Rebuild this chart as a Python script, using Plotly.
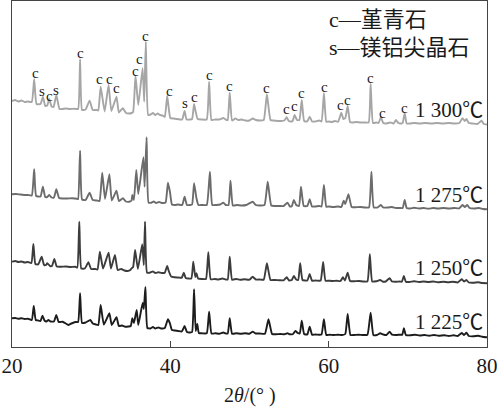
import plotly.graph_objects as go

# XRD patterns: (2theta in degrees, intensity in arbitrary units incl. vertical offset)
xrd_1300 = [
    (20.0, 246), (20.4, 247), (20.8, 245.5), (21.2, 246.5), (21.6, 245), (22.0, 245.5), (22.5, 245),
    (22.8, 267.7), (23.1, 243), (23.6, 243), (23.9, 250.3), (24.2, 241), (24.45, 241.5), (24.7, 248),
    (25.0, 240.5), (25.25, 240), (25.6, 252), (26.0, 238), (26.4, 238), (26.8, 238.5), (27.3, 238),
    (27.9, 238.3), (28.35, 238), (28.6, 287.7), (28.85, 237), (29.3, 237.5), (29.8, 246.3), (30.2, 237),
    (30.7, 237), (30.9, 236.5), (31.2, 260.3), (31.7, 235.5), (32.2, 262), (32.55, 236), (33.2, 250.3),
    (33.5, 234.5), (34.0, 238.7), (34.4, 234), (34.8, 233.5), (35.1, 234), (35.3, 235), (35.6, 271.3),
    (35.95, 242), (36.5, 278.7), (36.7, 245.3), (36.9, 305.3), (37.2, 232), (37.5, 232.5), (37.8, 234),
    (38.1, 232), (38.4, 233.5), (38.7, 232), (39.0, 231.5), (39.3, 230), (39.6, 251), (39.75, 242),
    (40.0, 229), (40.4, 228.5), (40.8, 228), (41.2, 227.5), (41.5, 227.5), (41.8, 236), (42.05, 227.5),
    (42.5, 227.5), (42.75, 228), (43.0, 243), (43.2, 235.3), (43.45, 228), (44.0, 227.5), (44.6, 227.5),
    (44.9, 265.3), (45.2, 227), (45.7, 227.5), (46.2, 227.5), (46.7, 229), (47.1, 227), (47.25, 227),
    (47.5, 254.3), (47.8, 226.5), (48.2, 228.5), (48.6, 227), (49.0, 227.5), (49.5, 226.5), (50.0, 226.5),
    (50.4, 228.5), (50.8, 227), (51.3, 226.5), (51.8, 227), (52.2, 252.7), (52.65, 227), (53.0, 226.5),
    (53.6, 226), (54.0, 226), (54.4, 226.5), (54.7, 229.7), (54.95, 226), (55.3, 225.5), (55.45, 226),
    (55.7, 232), (56.0, 227), (56.3, 227), (56.6, 247), (56.9, 226), (57.3, 225.5), (57.6, 230.3),
    (57.9, 225.5), (58.3, 225.5), (58.8, 226.5), (59.1, 225.5), (59.4, 253.7), (59.7, 225.3), (60.0, 225.5),
    (60.4, 225), (60.8, 226), (61.2, 225.3), (61.6, 234.3), (61.85, 228), (62.1, 229), (62.4, 241),
    (62.7, 225), (63.0, 224.5), (63.5, 225), (64.0, 224.5), (64.5, 224.5), (65.05, 224.5), (65.3, 263),
    (65.6, 224), (66.0, 224.5), (66.3, 224), (66.6, 229.7), (66.9, 224), (67.3, 223.5), (67.8, 224.5),
    (68.2, 223.5), (68.5, 227), (68.8, 224), (69.2, 223.5), (69.35, 224), (69.6, 233.7), (69.85, 223.5),
    (70.3, 223.5), (70.8, 224), (71.5, 223.5), (72.2, 224), (73.0, 223.5), (73.7, 224), (74.4, 223.5),
    (75.2, 224), (75.9, 223.5), (76.5, 224), (76.9, 228.7), (77.2, 226), (77.4, 228), (77.7, 224),
    (78.2, 223.5), (78.8, 223), (79.3, 226.3), (79.6, 223), (80.0, 222.5),
]

xrd_1275 = [
    (20.0, 152.7), (20.5, 153), (21.0, 152.5), (21.5, 152), (22.0, 152), (22.5, 151.5), (22.8, 177.7),
    (23.05, 151), (23.6, 150.5), (23.9, 160.3), (24.2, 150), (24.45, 150), (24.7, 152), (25.0, 149.5),
    (25.3, 149.5), (25.6, 157.7), (25.95, 149), (26.4, 148.5), (27.0, 148.5), (27.6, 148.7), (28.2, 148.3),
    (28.35, 148), (28.6, 196.3), (28.85, 147.5), (29.3, 147), (29.8, 154.3), (30.2, 147), (30.7, 146.5),
    (31.05, 146), (31.4, 174.3), (31.75, 148), (32.3, 172.7), (32.6, 146.5), (33.2, 156.3), (33.5, 146),
    (34.0, 148.7), (34.4, 145.5), (34.8, 145.3), (35.1, 146.5), (35.2, 152), (35.4, 147), (35.7, 177),
    (35.95, 153), (36.6, 189.7), (36.75, 160.3), (37.0, 209.7), (37.25, 144.5), (37.6, 144.3),
    (37.9, 145.5), (38.2, 144), (38.6, 145), (39.0, 144), (39.4, 144.5), (39.7, 164.3), (39.95, 155.3),
    (40.2, 142.5), (40.6, 142), (41.0, 142.5), (41.5, 142), (41.8, 150.3), (42.1, 142), (42.5, 142),
    (42.75, 142.5), (43.0, 163.7), (43.3, 148.7), (43.55, 142), (44.0, 142), (44.6, 142), (45.0, 175.3),
    (45.3, 142), (45.8, 142), (46.3, 142.5), (46.7, 144.3), (47.0, 142), (47.35, 142), (47.6, 166.3),
    (47.9, 141.5), (48.4, 142), (49.0, 141.5), (49.6, 142), (50.4, 145.3), (50.8, 142), (51.3, 141.5),
    (51.9, 142), (52.3, 165.3), (52.75, 141.5), (53.2, 141), (53.8, 141), (54.3, 141), (54.8, 144.3),
    (55.1, 140.5), (55.35, 141), (55.6, 147), (55.9, 142), (56.25, 141), (56.5, 160.3), (56.85, 141),
    (57.3, 141), (57.6, 147.7), (57.9, 140.5), (58.3, 140.5), (58.8, 141), (59.1, 140.5), (59.4, 162),
    (59.7, 140.3), (60.0, 140.5), (60.6, 140), (61.2, 140.5), (61.6, 140), (61.9, 146.3), (62.1, 143),
    (62.5, 152.7), (62.9, 140), (63.4, 139.7), (64.0, 140), (64.6, 139.5), (65.1, 139.7), (65.4, 175.3),
    (65.7, 139.5), (66.2, 139.7), (66.6, 142), (66.9, 139.5), (67.5, 139.5), (68.0, 140), (68.5, 139),
    (69.0, 139), (69.35, 139), (69.6, 147), (69.85, 139), (70.3, 138.5), (70.8, 139.2), (71.4, 138.5),
    (72.0, 139), (72.6, 138.3), (73.2, 139), (73.8, 138.5), (74.5, 139), (75.2, 138.5), (75.9, 139),
    (76.5, 138.7), (76.9, 142), (77.2, 140), (77.5, 142), (77.8, 139), (78.4, 138.5), (79.0, 139),
    (79.5, 138), (80.0, 137.7),
]

xrd_1250 = [
    (20.0, 85.3), (20.4, 86), (20.8, 85), (21.2, 85.5), (21.6, 84.5), (22.0, 85), (22.45, 84),
    (22.7, 103), (22.95, 83), (23.3, 82.5), (23.75, 90.3), (24.05, 82), (24.3, 82), (24.45, 83.7),
    (24.8, 81), (25.05, 81), (25.35, 88), (25.65, 80.5), (26.2, 80.3), (26.8, 80.5), (27.4, 80),
    (28.0, 80.3), (28.25, 79.5), (28.5, 125.3), (28.75, 78.5), (29.2, 78.5), (29.65, 84.7), (30.0, 78),
    (30.5, 78), (30.8, 77.5), (31.1, 95.3), (31.5, 78.5), (32.2, 94.3), (32.5, 78.5), (33.0, 92),
    (33.35, 77), (33.8, 78), (34.2, 76.5), (34.6, 76), (34.95, 77), (35.1, 78.7), (35.3, 80),
    (35.55, 97), (35.9, 78), (36.45, 102.7), (36.65, 82), (36.8, 125.3), (37.05, 74.5), (37.4, 74.3),
    (37.8, 75.5), (38.1, 74), (38.5, 74.8), (38.9, 74), (39.3, 74.3), (39.6, 81), (39.8, 76),
    (40.1, 70.5), (40.5, 69.7), (41.0, 69.5), (41.45, 69.3), (41.7, 74.3), (41.95, 69), (42.65, 68.5),
    (42.9, 85.3), (43.15, 70), (43.3, 73.7), (43.5, 68.5), (44.0, 68), (44.5, 68), (44.8, 94.7),
    (45.1, 67.7), (45.6, 68), (46.1, 67.5), (46.6, 68.5), (47.0, 67.5), (47.25, 67.5), (47.5, 90.3),
    (47.8, 67.3), (48.3, 68), (48.8, 67.3), (49.4, 67.7), (50.0, 67.3), (50.4, 70.3), (50.8, 67.5),
    (51.3, 67.5), (51.8, 67.3), (52.2, 83.7), (52.65, 67), (53.2, 67), (53.8, 66.7), (54.3, 66.7),
    (54.7, 69.7), (55.0, 66.5), (55.35, 67), (55.6, 71), (55.9, 67.5), (56.15, 67), (56.4, 83.7),
    (56.7, 67), (57.3, 66.5), (57.6, 73), (57.9, 66.3), (58.3, 66.5), (58.8, 66.3), (59.0, 66.5),
    (59.3, 85), (59.6, 66.3), (60.0, 66.3), (60.5, 66), (61.0, 66.3), (61.5, 66), (61.8, 69.7),
    (62.05, 66.5), (62.4, 74.3), (62.7, 66), (63.2, 65.7), (63.8, 66), (64.4, 65.5), (64.9, 65.7),
    (65.2, 92.7), (65.5, 65.5), (66.0, 65.7), (66.5, 67), (66.8, 65.5), (67.2, 65.5), (67.7, 68.7),
    (68.0, 65.5), (68.5, 65.3), (69.0, 65.5), (69.25, 65.3), (69.5, 71), (69.75, 65.3), (70.2, 65),
    (70.8, 65.7), (71.4, 65), (72.0, 65.5), (72.6, 65), (73.2, 65.5), (73.8, 64.8), (74.5, 65.3),
    (75.1, 64.7), (75.7, 65.3), (76.3, 64.5), (76.8, 67.7), (77.1, 65.5), (77.4, 67), (77.7, 64.5),
    (78.3, 64.3), (78.9, 64.7), (79.4, 64), (80.0, 63.7),
]

xrd_1225 = [
    (20.0, 28.7), (20.4, 29), (20.8, 28.3), (21.2, 28.7), (21.6, 28), (22.0, 28.3), (22.5, 27),
    (22.75, 41), (23.0, 27), (23.3, 26.5), (23.6, 26), (23.85, 31.3), (24.1, 26.5), (24.35, 25.5),
    (24.6, 27), (24.85, 25.5), (25.3, 25.5), (25.6, 32), (25.9, 25), (26.4, 25.3), (26.8, 23.5),
    (27.1, 22), (27.5, 23.5), (28.0, 25), (28.35, 25), (28.6, 53.7), (28.85, 24), (29.3, 24.5),
    (29.9, 27), (30.2, 23.5), (30.6, 22.5), (30.9, 22), (31.2, 42), (31.6, 22.5), (32.3, 33.7),
    (32.6, 22), (33.2, 29.7), (33.5, 21), (33.9, 21.5), (34.3, 20.3), (34.7, 20.5), (35.0, 21),
    (35.2, 28.7), (35.4, 24), (35.75, 37), (35.95, 22), (36.5, 44), (36.65, 38), (36.85, 60),
    (37.1, 19), (37.5, 18.5), (37.8, 20), (38.1, 18.5), (38.5, 19.5), (38.9, 18.5), (39.3, 19),
    (39.7, 27.7), (39.95, 23.7), (40.2, 17), (40.6, 16.5), (41.0, 16), (41.45, 15.5), (41.8, 21),
    (42.1, 15), (42.5, 14.5), (42.75, 15), (43.0, 57.7), (43.2, 16), (43.4, 23), (43.6, 14),
    (44.0, 13.7), (44.6, 13.7), (44.9, 35.3), (45.2, 13.5), (45.7, 13.7), (46.2, 13.3), (46.7, 14.5),
    (47.0, 13.5), (47.25, 13.5), (47.5, 28.7), (47.8, 13.3), (48.3, 13.7), (48.9, 13.3), (49.5, 13.7),
    (50.0, 13.3), (50.4, 15.3), (50.8, 13.5), (51.3, 13.5), (51.95, 13.3), (52.4, 27.7), (52.85, 13),
    (53.3, 12.7), (53.9, 13), (54.4, 12.7), (54.8, 13.7), (55.1, 12.7), (55.5, 13), (55.8, 16),
    (56.1, 14), (56.35, 13.5), (56.6, 26.3), (56.9, 13), (57.3, 12.5), (57.6, 20.3), (57.9, 12.3),
    (58.3, 12.5), (58.8, 12.3), (59.1, 12.5), (59.4, 27.7), (59.7, 12), (60.1, 12.3), (60.6, 12),
    (61.2, 12.3), (61.7, 12), (62.1, 13), (62.4, 33), (62.75, 12), (63.2, 12), (63.8, 12.3),
    (64.3, 12), (64.9, 12.3), (65.3, 34.3), (65.65, 12), (66.1, 12), (66.5, 13.7), (66.9, 12.5),
    (67.3, 12), (67.7, 15.3), (68.0, 12.3), (68.5, 12), (69.0, 12.3), (69.3, 12.3), (69.5, 18.7),
    (69.75, 12), (70.3, 11.7), (70.9, 12.3), (71.5, 11.5), (72.1, 12), (72.7, 11.3), (73.3, 12),
    (73.9, 11.3), (74.6, 11.7), (75.2, 11), (75.8, 11.7), (76.3, 11), (76.8, 14), (77.1, 12),
    (77.4, 14.3), (77.7, 11), (78.3, 10.7), (78.9, 11.3), (79.4, 10.3), (80.0, 9.7),
]

series_names = ["1 300℃", "1 275℃", "1 250℃", "1 225℃"]
series_data = [xrd_1300, xrd_1275, xrd_1250, xrd_1225]
series_colors = ["#a6a6a6", "#6c6c6c", "#3c3c3c", "#1c1c1c"]
series_label_y = [237, 152, 79, 25.5]

# phase marks on the 1 300 ℃ pattern
mark_text = ["c", "s", "c", "s", "c", "c", "c", "c", "c", "c", "c", "c", "s", "c", "c", "c",
             "c", "c", "c", "c", "c", "c", "c", "c", "c", "c"]
mark_x = [23.0, 23.8, 24.7, 25.6, 28.6, 31.0, 32.3, 33.2, 35.55, 36.15, 36.9, 39.9, 41.8, 43.1, 44.9, 47.5,
          52.2, 54.7, 55.7, 56.6, 59.5, 61.5, 62.4, 65.3, 66.8, 69.6]
mark_y = [274.3, 256, 251, 257, 294.3, 268, 268, 258.7, 276.5, 288.5, 311.3, 256, 244.3, 250.3, 272, 261,
          259.3, 237.7, 241, 253.7, 260.3, 242, 247, 268.7, 234.3, 239.3]

legend_lines = ["c—堇青石", "s—镁铝尖晶石"]
legend_y = [328, 300]

x_ticks = [20, 40, 60, 80]

SERIF = "Liberation Serif, Times New Roman, Noto Sans CJK SC, serif"

fig = go.Figure()
for name, data, color in zip(series_names, series_data, series_colors):
    fig.add_trace(go.Scatter(
        x=[p[0] for p in data], y=[p[1] for p in data], mode="lines", name=name,
        line=dict(color=color, width=1.9, shape="spline", smoothing=0.4),
        showlegend=False, hoverinfo="skip",
    ))

for name, ly in zip(series_names, series_label_y):
    fig.add_annotation(x=79.7, y=ly, xref="x", yref="y", text=name, showarrow=False,
                       xanchor="right", yanchor="middle",
                       font=dict(family=SERIF, size=21, color="#1a1a1a"))

for t, mx, my in zip(mark_text, mark_x, mark_y):
    fig.add_annotation(x=mx, y=my, xref="x", yref="y", text=t, showarrow=False,
                       xanchor="center", yanchor="middle",
                       font=dict(family=SERIF, size=15, color="#222222"))

for t, ly in zip(legend_lines, legend_y):
    fig.add_annotation(x=59.75, y=ly, xref="x", yref="y", text=t, showarrow=False,
                       xanchor="left", yanchor="middle",
                       font=dict(family=SERIF, size=22, color="#1a1a1a"))

fig.add_annotation(x=0.5, y=-0.139, xref="paper", yref="paper", text="2<i>θ</i>/(° )",
                   showarrow=False, xanchor="center", yanchor="middle",
                   font=dict(family=SERIF, size=20, color="#1a1a1a"))

fig.update_xaxes(range=[20, 80], tickvals=x_ticks, ticktext=[str(v) for v in x_ticks],
                 ticks="inside", ticklen=6, tickcolor="#444444", tickwidth=1,
                 showline=True, linecolor="#444444", linewidth=1, mirror=True,
                 showgrid=False, zeroline=False, automargin=False,
                 tickfont=dict(family=SERIF, size=21, color="#1a1a1a"))
fig.update_yaxes(range=[0, 346], showticklabels=False, ticks="",
                 showline=True, linecolor="#444444", linewidth=1, mirror=True,
                 showgrid=False, zeroline=False, automargin=False)

fig.update_layout(width=499, height=410, margin=dict(l=12, r=12, t=1, b=63, autoexpand=False),
                  plot_bgcolor="white", paper_bgcolor="white")

fig.write_html("out.html", config={"displayModeBar": False},
               post_script="document.body.style.margin='0';document.body.style.overflow='hidden';")
